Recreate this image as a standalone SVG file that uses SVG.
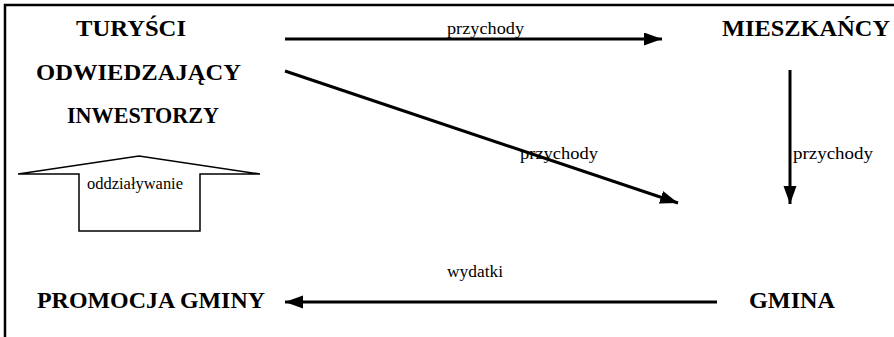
<svg xmlns="http://www.w3.org/2000/svg" width="894" height="337" viewBox="0 0 894 337">
<style>
.b{font-family:"Liberation Serif","Times New Roman",serif;font-weight:bold;font-size:24px;fill:#000}
.s{font-family:"Liberation Serif","Times New Roman",serif;font-size:16px;fill:#000}
.ln{stroke:#000;stroke-width:3;fill:none}
.fr{stroke:#000;stroke-width:2.5;fill:none}
</style>
<defs>
<marker id="ah" markerUnits="userSpaceOnUse" markerWidth="19" markerHeight="14" refX="18" refY="6.5" orient="auto">
<path d="M0,0 L18,6.5 L0,13 Z" fill="#000"/>
</marker>
</defs>
<rect width="894" height="337" fill="#fff"/>
<path class="fr" d="M5,337 V5 H894"/>
<g id="turysci">
<text class="b" x="76" y="36" textLength="110" lengthAdjust="spacingAndGlyphs">TURYŚCI</text>
<text class="b" x="36" y="80" textLength="205" lengthAdjust="spacingAndGlyphs">ODWIEDZAJĄCY</text>
<text class="b" x="67" y="123" textLength="152" lengthAdjust="spacingAndGlyphs">INWESTORZY</text>
</g>
<g id="mieszkancy">
<text class="b" x="722" y="36" textLength="168" lengthAdjust="spacingAndGlyphs">MIESZKAŃCY</text>
</g>
<g id="gmina">
<text class="b" x="749" y="308" textLength="86" lengthAdjust="spacingAndGlyphs">GMINA</text>
</g>
<g id="promocja">
<text class="b" x="37" y="308" textLength="228" lengthAdjust="spacingAndGlyphs">PROMOCJA GMINY</text>
</g>
<g id="oddzialywanie">
<polygon points="18,174 139,156 260,174 200,174 200,231 79,231 79,174" fill="#fff" stroke="#000" stroke-width="1.5"/>
<text class="s" x="87" y="189" textLength="96" lengthAdjust="spacingAndGlyphs">oddziaływanie</text>
</g>
<g id="connectors">
<line class="ln" x1="285" y1="39" x2="662" y2="39" marker-end="url(#ah)"/>
<text class="s" x="447" y="34" textLength="77" lengthAdjust="spacingAndGlyphs">przychody</text>
<line class="ln" x1="285" y1="71" x2="678" y2="203" marker-end="url(#ah)"/>
<text class="s" x="520" y="159" textLength="78" lengthAdjust="spacingAndGlyphs">przychody</text>
<line class="ln" x1="790" y1="70" x2="790" y2="204" marker-end="url(#ah)"/>
<text class="s" x="793" y="159" textLength="80" lengthAdjust="spacingAndGlyphs">przychody</text>
<line class="ln" x1="717" y1="302" x2="285" y2="302" marker-end="url(#ah)"/>
<text class="s" x="447" y="277" textLength="56" lengthAdjust="spacingAndGlyphs">wydatki</text>
</g>
</svg>
